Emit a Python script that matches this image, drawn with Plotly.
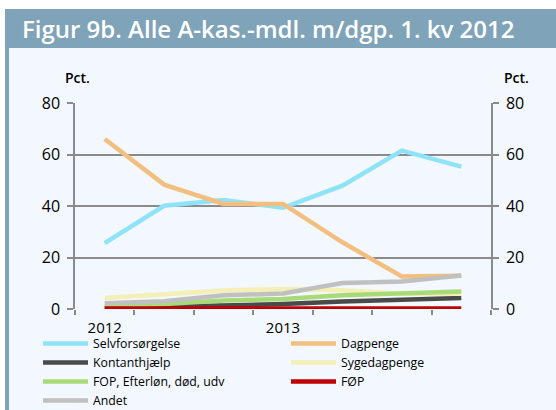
import plotly.graph_objects as go

W, H = 556, 410

categories = ["2012K1", "2012K2", "2012K3", "2012K4", "2013K1", "2013K2", "2013K3"]
tick_labels = ["2012", "2013"]
tick_positions = [0, 3]

selvforsorgelse = [25.6, 40.1, 42.3, 39.3, 47.9, 61.5, 55.3]
dagpenge = [66.0, 48.3, 40.8, 40.8, 25.9, 12.6, 12.9]
kontanthjaelp = [0.4, 0.8, 1.5, 1.9, 2.9, 3.5, 4.3]
sygedagpenge = [4.3, 5.6, 7.2, 7.8, 7.3, 5.9, 5.9]
fop = [1.1, 1.9, 3.3, 3.9, 5.3, 6.0, 6.8]
foep = [0.2, 0.2, 0.2, 0.2, 0.2, 0.2, 0.2]
andet = [2.2, 3.0, 5.3, 6.0, 10.1, 10.7, 13.0]

series = [
    ("Selvforsørgelse", selvforsorgelse, "#8fe3f8", "legend"),
    ("Dagpenge", dagpenge, "#f2bf80", "legend2"),
    ("Kontanthjælp", kontanthjaelp, "#4a4a4a", "legend"),
    ("Sygedagpenge", sygedagpenge, "#f3efb6", "legend2"),
    ("FOP, Efterløn, død, udv", fop, "#a8db78", "legend"),
    ("FØP", foep, "#c00000", "legend2"),
    ("Andet", andet, "#c0c0c0", "legend"),
]

FONT = "Open Sans"
AXIS = "#8a8a8a"

xi = list(range(len(categories)))

fig = go.Figure()
for name, vals, col, leg in series:
    fig.add_trace(go.Scatter(x=xi, y=vals, name=name, mode="lines",
                             line=dict(color=col, width=4.5), legend=leg,
                             hovertext=categories))
fig.add_trace(go.Scatter(x=[0], y=[0], yaxis="y2", showlegend=False,
                         mode="markers", marker=dict(opacity=0), hoverinfo="skip"))
fig.add_trace(go.Scatter(x=[0], y=[0], xaxis="x2", showlegend=False,
                         mode="markers", marker=dict(opacity=0), hoverinfo="skip"))

def px(x):
    return x / W

def py(y):
    return 1 - y / H

xdom = [px(75), px(491)]
ydom = [py(309), py(103)]

legend_common = dict(orientation="v", yanchor="top", xanchor="left",
                     font=dict(size=12.3, family=FONT), bgcolor="rgba(0,0,0,0)",
                     tracegroupgap=0, itemwidth=45, traceorder="normal")

fig.update_layout(
    width=W, height=H,
    margin=dict(l=0, r=0, t=0, b=0, autoexpand=False),
    paper_bgcolor="white",
    plot_bgcolor="rgba(0,0,0,0)",
    font=dict(family=FONT, size=14, color="black"),
    showlegend=True,
    xaxis=dict(domain=xdom, range=[-0.5, 6.5], tickmode="array",
               tickvals=[i - 0.5 for i in range(len(categories) + 1)],
               ticktext=[""] * (len(categories) + 1),
               ticks="outside", ticklen=5, tickcolor=AXIS, tickwidth=1.5,
               showgrid=False, zeroline=False, showline=False, fixedrange=True),
    xaxis2=dict(domain=xdom, range=[-0.5, 6.5], overlaying="x", side="bottom",
                anchor="y", tickmode="array", tickvals=tick_positions,
                ticktext=tick_labels, ticks="", showgrid=False, zeroline=False,
                showline=False, tickfont=dict(size=15, family=FONT),
                ticklabelstandoff=8),
    yaxis=dict(domain=ydom, range=[0, 80], tickmode="array",
               tickvals=[0, 20, 40, 60, 80], showgrid=True, gridcolor=AXIS,
               gridwidth=1.5, zeroline=False, showline=True, linecolor=AXIS,
               linewidth=1.5, ticks="outside", ticklen=6, tickcolor=AXIS,
               tickwidth=1.5, tickfont=dict(size=16), ticklabelstandoff=4),
    yaxis2=dict(domain=ydom, range=[0, 80], overlaying="y", side="right",
                anchor="x", tickmode="array", tickvals=[0, 20, 40, 60, 80],
                showgrid=False, zeroline=False, showline=True, linecolor=AXIS,
                linewidth=1.5, ticks="outside", ticklen=6, tickcolor=AXIS,
                tickwidth=1.5, tickfont=dict(size=16), ticklabelstandoff=4),
    legend=dict(x=px(38), y=py(329), **legend_common),
    legend2=dict(x=px(286), y=py(329), **legend_common),
    shapes=[
        dict(type="rect", xref="paper", yref="paper", x0=px(9), x1=1,
             y0=0, y1=py(48), fillcolor="#f2f8fd", line=dict(width=0), layer="below"),
        dict(type="rect", xref="paper", yref="paper", x0=px(5), x1=1,
             y0=py(48), y1=py(9), fillcolor="#7fa3b8", line=dict(width=0), layer="below"),
        dict(type="rect", xref="paper", yref="paper", x0=px(5), x1=px(9),
             y0=0, y1=py(48), fillcolor="#7fa3b8", line=dict(width=0), layer="below"),
    ],
    annotations=[
        dict(text="Figur 9b. Alle A-kas.-mdl. m/dgp. 1. kv 2012", xref="paper",
             yref="paper", x=px(20), y=py(29), xanchor="left", yanchor="middle",
             showarrow=False, font=dict(size=24, color="white", family=FONT, weight=600)),
        dict(text="Pct.", xref="paper", yref="paper", x=px(63), y=py(78),
             xanchor="left", yanchor="middle", showarrow=False,
             font=dict(size=14, family=FONT, weight=600)),
        dict(text="Pct.", xref="paper", yref="paper", x=px(502), y=py(78),
             xanchor="left", yanchor="middle", showarrow=False,
             font=dict(size=14, family=FONT, weight=600)),
    ],
)

fig.write_html("out.html", config={"displayModeBar": False},
               post_script="document.body.style.margin='0';document.body.style.overflow='hidden';")
